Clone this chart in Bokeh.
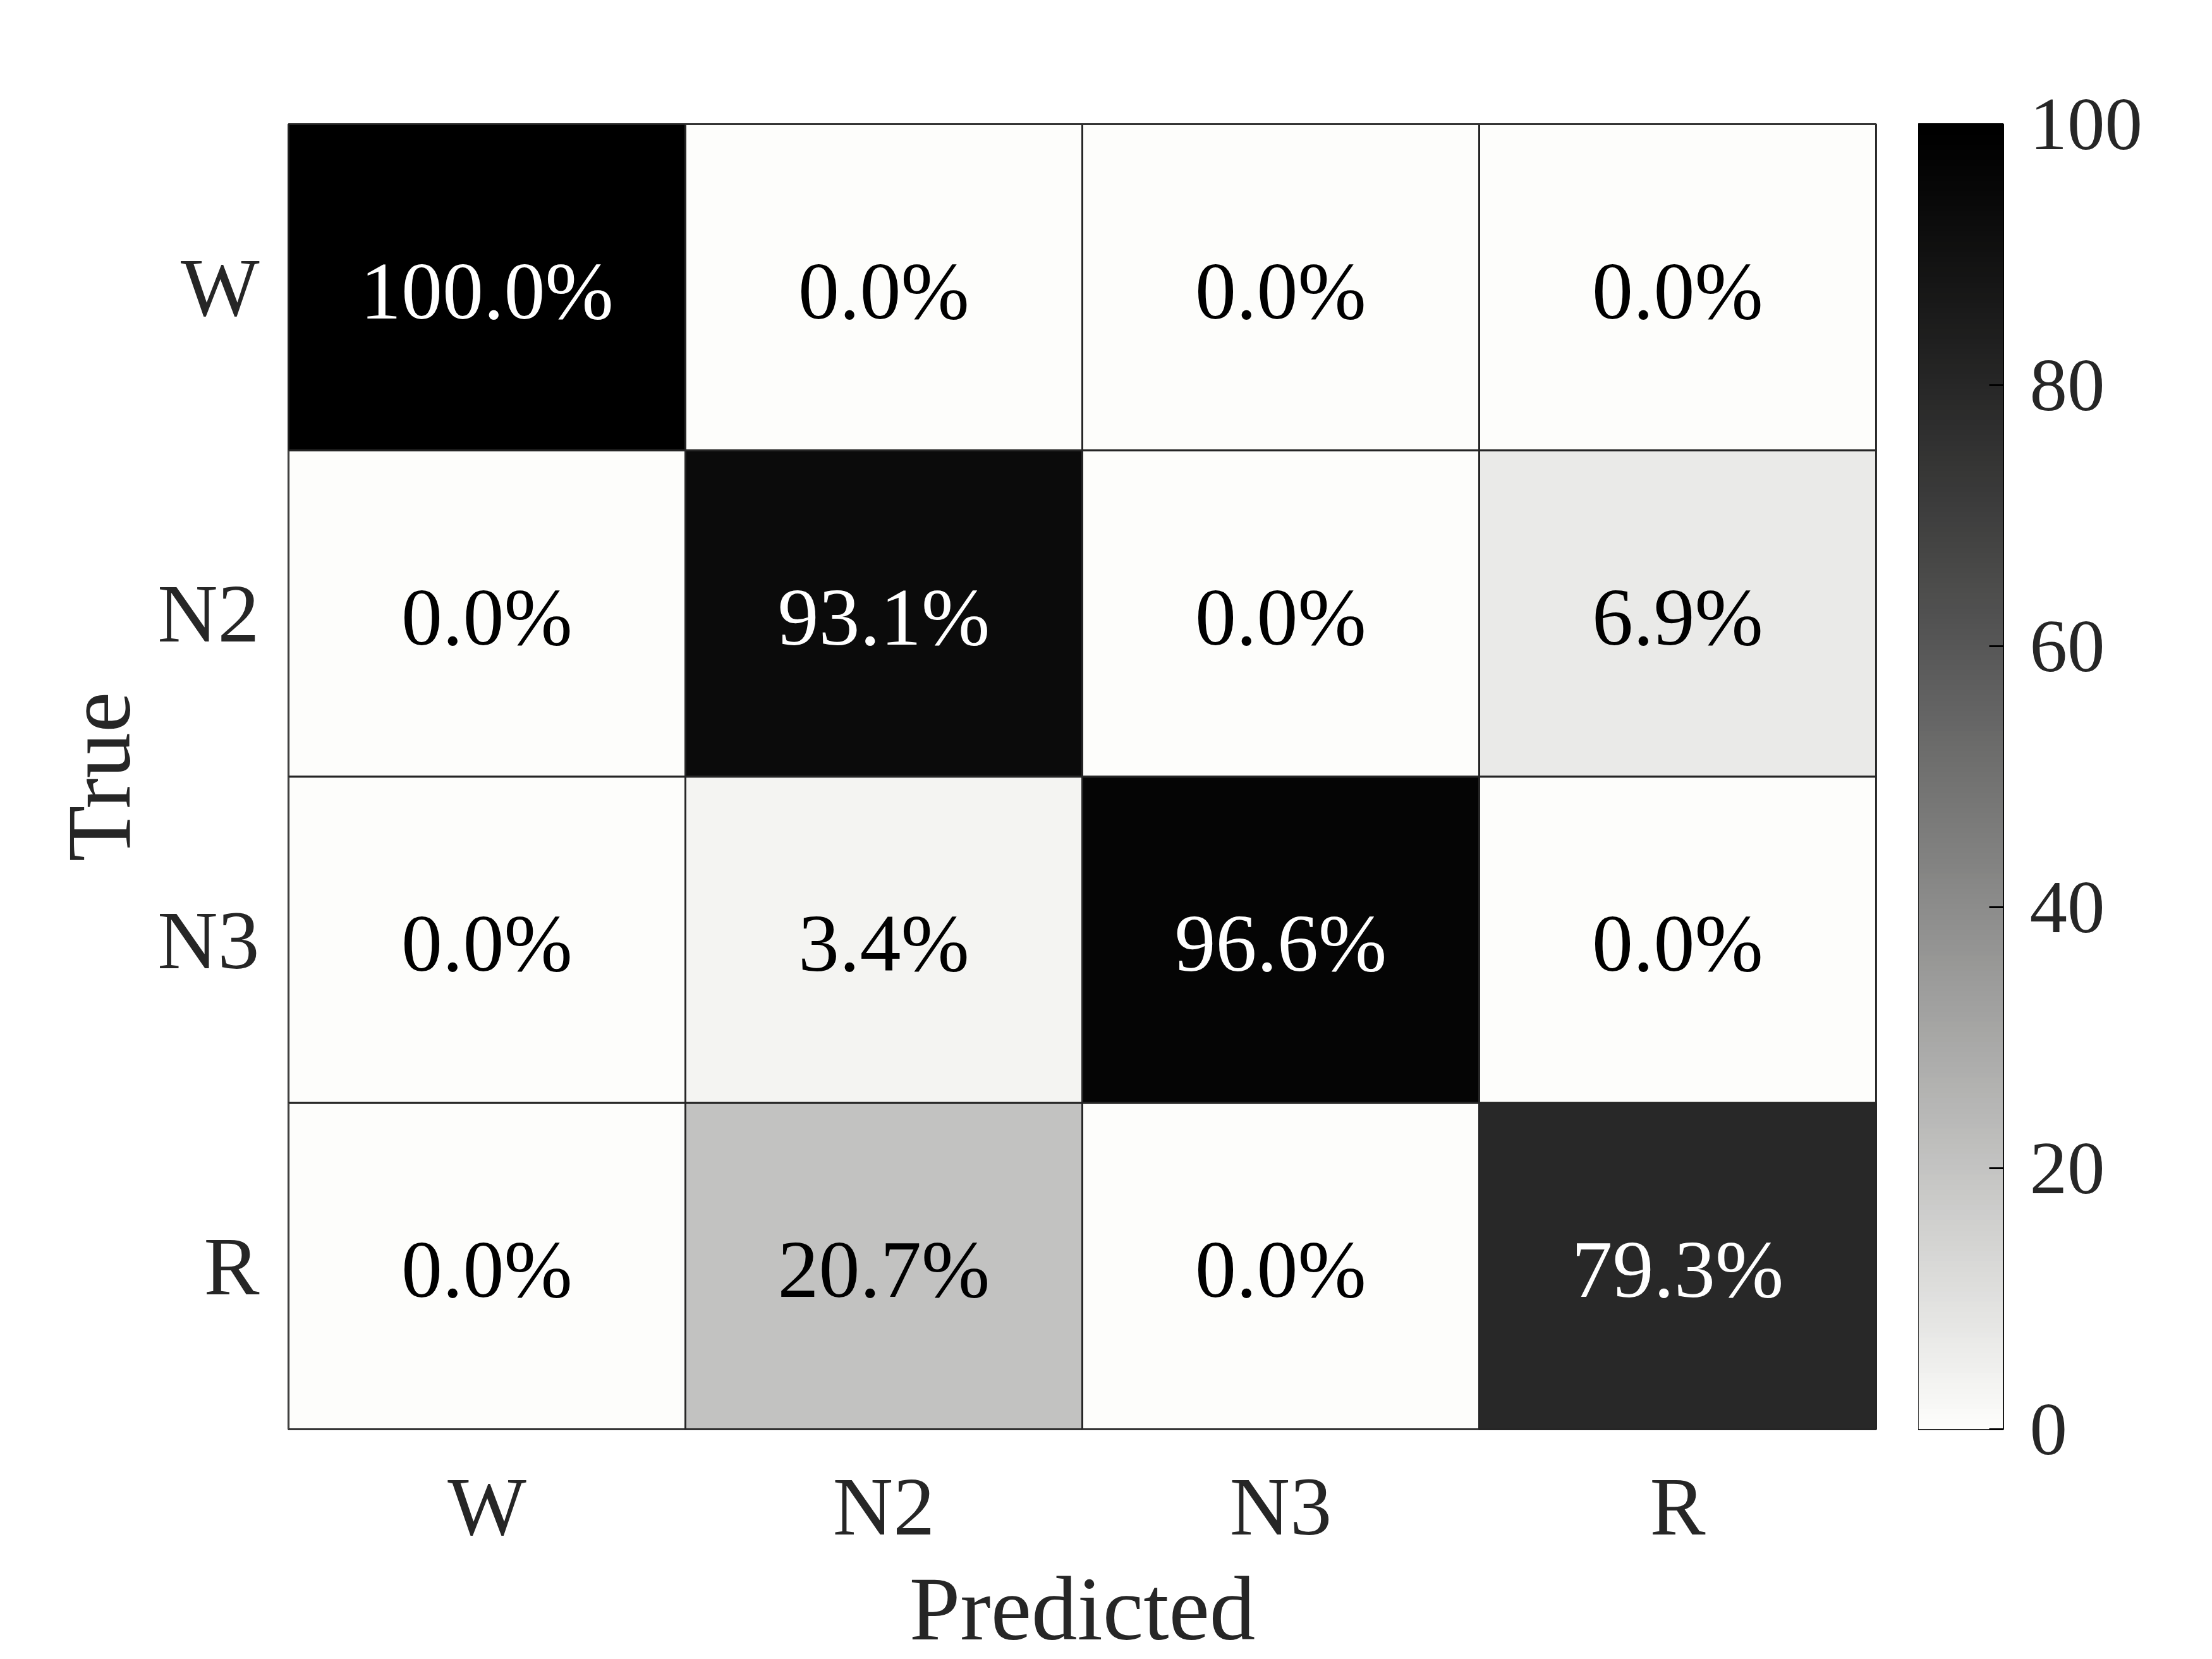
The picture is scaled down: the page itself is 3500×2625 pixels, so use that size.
import numpy as np
from bokeh.plotting import figure
from bokeh.models import ColumnDataSource, FactorRange, LinearColorMapper, FixedTicker
from bokeh.layouts import row
from bokeh.core.properties import value
from bokeh.embed import file_html
from bokeh.resources import INLINE

# ---- data ----
true_labels = ["W", "N2", "N3", "R"]
pred_labels = ["W", "N2", "N3", "R"]
row_W = [100.0, 0.0, 0.0, 0.0]
row_N2 = [0.0, 93.1, 0.0, 6.9]
row_N3 = [0.0, 3.4, 96.6, 0.0]
row_R = [0.0, 20.7, 0.0, 79.3]
cbar_ticks = [0, 20, 40, 60, 80, 100]

rows = [row_W, row_N2, row_N3, row_R]

FONT = "Liberation Serif"
TXT = "#262626"

# grayscale palette light -> dark
base = np.array([253, 253, 251])
palette = []
for i in range(256):
    t = i / 255
    c = (base * (1 - t) ** 1.16).round().astype(int)
    palette.append("#%02x%02x%02x" % tuple(c))
mapper = LinearColorMapper(palette=palette, low=0, high=100)

xs, ys, vals, labels, tcols = [], [], [], [], []
for tl, r in zip(true_labels, rows):
    for pl, v in zip(pred_labels, r):
        xs.append(pl)
        ys.append(tl)
        vals.append(v)
        labels.append("%.1f%%" % v)
        tcols.append("#ffffff" if v > 50 else "#000000")
src = ColumnDataSource(dict(x=xs, y=ys, v=vals, label=labels, tcol=tcols))

p = figure(x_range=FactorRange(*pred_labels), y_range=FactorRange(*reversed(true_labels)),
           frame_width=2512, frame_height=2065,
           min_border_left=456, min_border_right=67, min_border_top=196, min_border_bottom=362,
           output_backend="svg", toolbar_location=None, background_fill_color="white")
p.rect(x="x", y="y", width=1, height=1, source=src,
       fill_color={"field": "v", "transform": mapper},
       line_color=TXT, line_width=3)
p.text(x="x", y="y", text="label", source=src, text_color="tcol",
       text_font=value(FONT), text_font_size="130px",
       text_align="center", text_baseline="middle", y_offset=5)

p.grid.visible = False
p.outline_line_color = TXT
p.outline_line_width = 3
for ax in (p.xaxis, p.yaxis):
    ax.axis_line_color = None
    ax.major_tick_line_color = None
    ax.minor_tick_line_color = None
    ax.major_label_text_font = FONT
    ax.major_label_text_font_size = "132px"
    ax.major_label_text_color = TXT
    ax.axis_label_text_font = FONT
    ax.axis_label_text_font_size = "145px"
    ax.axis_label_text_font_style = "normal"
    ax.axis_label_text_color = TXT
p.xaxis.axis_label = "Predicted"
p.yaxis.axis_label = "True"
p.xaxis.major_label_standoff = 42
p.xaxis.axis_label_standoff = 5
p.yaxis.major_label_standoff = 40
p.yaxis.axis_label_standoff = 10

# colour bar as its own small figure
cb = figure(x_range=(0, 1), y_range=(0, 100), frame_width=134, frame_height=2065,
            min_border_left=0, min_border_right=300, min_border_top=196, min_border_bottom=362,
            y_axis_location="right", output_backend="svg", toolbar_location=None)
levels = np.linspace(0, 100, 512).reshape(-1, 1)
cb.image(image=[levels], x=0, y=0, dw=1, dh=100, color_mapper=mapper)
cb.xaxis.visible = False
cb.grid.visible = False
cb.outline_line_color = "black"
cb.outline_line_width = 3
ya = cb.yaxis[0]
ya.ticker = FixedTicker(ticks=cbar_ticks)
ya.axis_line_color = None
ya.major_tick_in = 22
ya.major_tick_out = 0
ya.major_tick_line_color = "black"
ya.major_tick_line_width = 3
ya.minor_tick_line_color = None
ya.major_label_text_font = FONT
ya.major_label_text_font_size = "119px"
ya.major_label_text_color = TXT
ya.major_label_standoff = 42

layout = row(p, cb)
open("out.html", "w").write(file_html(layout, INLINE))
